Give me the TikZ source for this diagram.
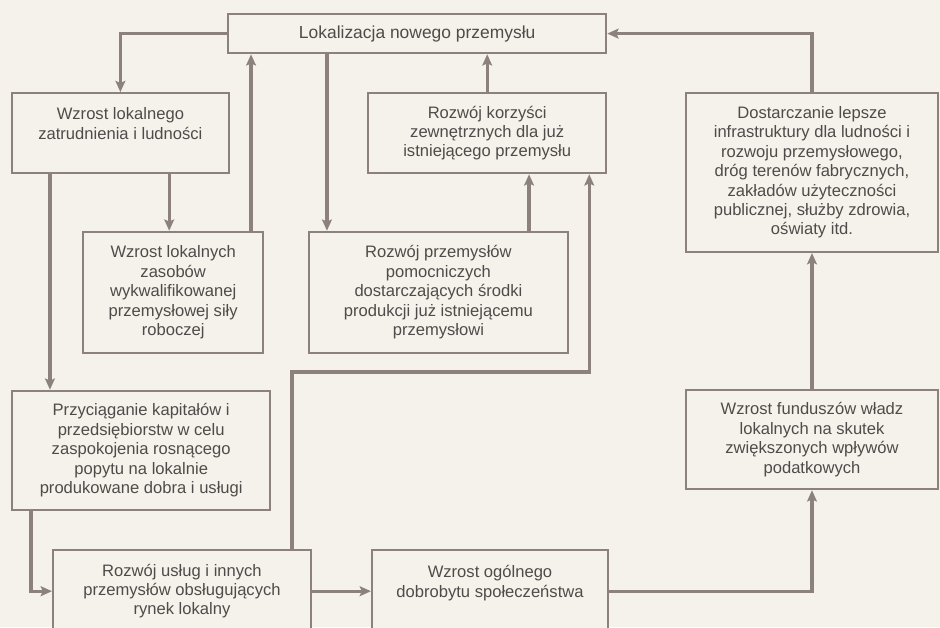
\documentclass[tikz,border=0pt]{standalone}
\usepackage{fontspec}
\setmainfont{Liberation Sans}
\definecolor{BGcream}{HTML}{F4F2EA}
\definecolor{LNgray}{HTML}{8C817D}
\definecolor{TXgray}{HTML}{4F4B4A}
\usetikzlibrary{arrows.meta, calc, positioning}
\begin{document}
\begin{tikzpicture}[
      box/.style={rectangle, draw=LNgray, line width=1.5pt, fill=BGcream,
                  align=center, text=TXgray, inner sep=3pt,
                  font=\fontsize{11.8}{13.8}\selectfont},
      arr/.style={-{Stealth[length=8pt, width=7pt, inset=1.5pt]}, draw=LNgray, line width=2.4pt}]
      \useasboundingbox (0,0) rectangle (23.5,-15.675);
      \fill[BGcream] (0,0) rectangle (23.5,-15.675);
      % Row 1: top box
      \node[box, minimum width=9.45cm, minimum height=0.98cm, font=\fontsize{12.4}{14}\selectfont] (loc) at (10.43,-0.84) {Lokalizacja nowego przemys\l{}u};
      % Row 2
      \node[box, minimum width=5.43cm, minimum height=2cm] (zatr) at (3.01,-3.33) {Wzrost lokalnego\\zatrudnienia i ludności\\\mbox{}};
      \node[box, minimum width=5.95cm, minimum height=2cm] (korz) at (12.18,-3.33) {Rozwój korzyści\\zewnętrznych dla już\\istniejącego przemysłu};
      \node[box, minimum width=6.3cm, minimum height=3.98cm] (infra) at (20.3,-4.31) {Dostarczanie lepsze\\infrastruktury dla ludności i\\rozwoju przemysłowego,\\dróg terenów fabrycznych,\\zakładów użyteczności\\publicznej, służby zdrowia,\\oświaty itd.};
      % Row 3
      \node[box, minimum width=4.5cm, minimum height=3.03cm] (zasob) at (4.33,-7.31) {Wzrost lokalnych\\zasobów\\wykwalifikowanej\\przemysłowej siły\\roboczej};
      \node[box, minimum width=6.48cm, minimum height=3.03cm] (pomoc) at (10.96,-7.31) {Rozwój przemysłów\\pomocniczych\\dostarczających środki\\produkcji już istniejącemu\\przemysłowi};
      % Row 4
      \node[box, minimum width=6.45cm, minimum height=2.98cm] (kapit) at (3.53,-11.26) {Przyciąganie kapitałów i\\przedsiębiorstw w celu\\zaspokojenia rosnącego\\popytu na lokalnie\\produkowane dobra i usługi};
      \node[box, minimum width=6.3cm, minimum height=2.48cm] (fund) at (20.3,-10.99) {Wzrost funduszów władz\\lokalnych na skutek\\zwiększonych wpływów\\podatkowych};
      % Row 5
      \node[box, minimum width=6.45cm, minimum height=2.05cm] (uslug) at (4.55,-14.78) {Rozwój usług i innych\\przemysłów obsługujących\\rynek lokalny};
      \node[box, minimum width=5.9cm, minimum height=2.05cm] (dobr) at (12.25,-14.78) {Wzrost ogólnego\\dobrobytu społeczeństwa\\\mbox{}};
      % Arrows
      \coordinate (bend) at (0,-9.3);
      \draw[arr] (loc.west) -| (zatr.north);
      \draw[arr] ([xshift=0.98cm]zatr.south west) -- ([xshift=0.98cm]zatr.south west |- kapit.north);
      \draw[arr] ([xshift=-0.1cm]zasob.north |- zatr.south) -- ([xshift=-0.1cm]zasob.north);
      \draw[arr] ([xshift=-0.33cm]zasob.north east) -- ([xshift=-0.33cm]zasob.north east |- loc.south);
      \draw[arr] ([xshift=0.48cm]pomoc.north west |- loc.south) -- ([xshift=0.48cm]pomoc.north west);
      \draw[arr] ([xshift=-1cm]pomoc.north east) -- ([xshift=-1cm]pomoc.north east |- korz.south);
      \draw[arr] (korz.north) -- (korz.north |- loc.south);
      \draw[arr] ([xshift=-0.5cm]uslug.north east) -- ([xshift=-0.5cm]uslug.north east |- bend) -| ([xshift=-0.45cm]korz.south east);
      \draw[arr] ([xshift=0.5cm]kapit.south west) |- (uslug.west);
      \draw[arr] (uslug.east) -- (dobr.west);
      \draw[arr] (dobr.east) -| (fund.south);
      \draw[arr] (fund.north) -- (infra.south);
      \draw[arr] (infra.north) |- (loc.east);
   \end{tikzpicture}
\end{document}
